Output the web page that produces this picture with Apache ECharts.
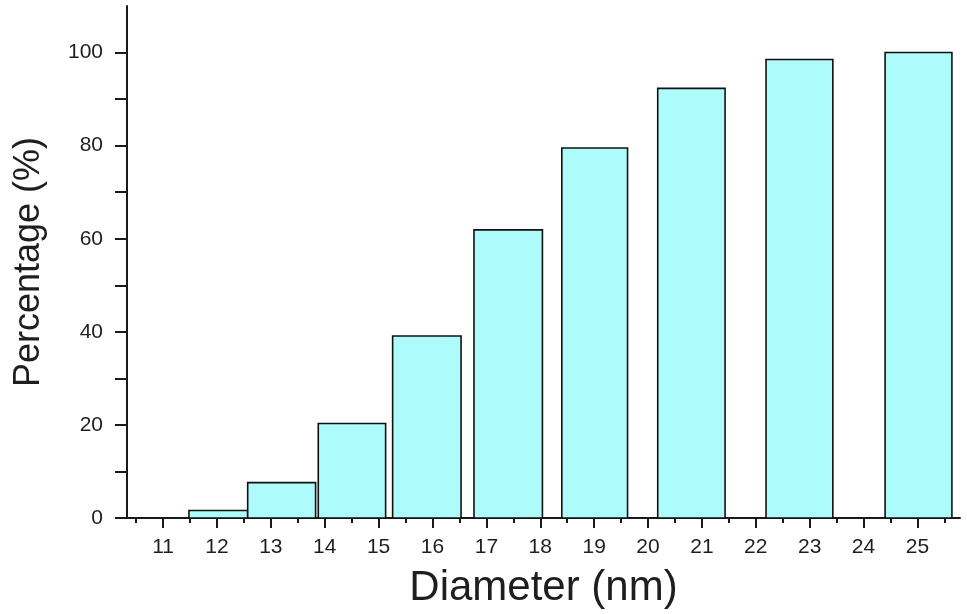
<!DOCTYPE html>
<html>
<head>
<meta charset="utf-8">
<script src="https://cdn.jsdelivr.net/npm/echarts@6/dist/echarts.min.js"></script>
<style>
html,body{margin:0;padding:0;background:#fff;}
#c{width:967px;height:614px;}
</style>
</head>
<body>
<div id="c"></div>
<script>
// Bin edges (nm) and cumulative percentage values
const binStart = [11.48, 12.57, 13.88, 15.26, 16.77, 18.40, 20.18, 22.19, 24.40];
const binEnd   = [12.57, 13.83, 15.13, 16.53, 18.04, 19.62, 21.43, 23.43, 25.64];
const percentValues = [1.6, 7.6, 20.3, 39.1, 61.9, 79.5, 92.3, 98.5, 100];

// Tick values
const xMajorTicks = [11,12,13,14,15,16,17,18,19,20,21,22,23,24,25];
const xMinorTicks = [10.5,11.5,12.5,13.5,14.5,15.5,16.5,17.5,18.5,19.5,20.5,21.5,22.5,23.5,24.5,25.5];
const yLabelTicks = [0,20,40,60,80,100];
const yTicks = [0,10,20,30,40,50,60,70,80,90,100];

const barData = binStart.map((s, i) => [s, binEnd[i], percentValues[i]]);

const chart = echarts.init(document.getElementById('c'), null, {renderer: 'canvas'});
const axisColor = '#1a1a1a';
const textColor = '#1e1e1e';
const fontFamily = '"Liberation Sans", Arial, sans-serif';

chart.setOption({
  animation: false,
  backgroundColor: '#fff',
  grid: {left: 127, right: 7, top: 6, bottom: 93, containLabel: false},
  xAxis: [
    {
      type: 'value', min: 10.33, max: 25.79, position: 'bottom',
      name: 'Diameter (nm)', nameLocation: 'middle', nameGap: 49,
      nameTextStyle: {fontSize: 42, color: textColor, fontFamily: fontFamily},
      axisLine: {show: true, onZero: false, lineStyle: {color: axisColor, width: 2}},
      axisTick: {show: true, customValues: xMajorTicks, length: 10, lineStyle: {color: axisColor, width: 2}},
      axisLabel: {show: true, customValues: xMajorTicks, margin: 19, fontSize: 21, color: textColor, fontFamily: fontFamily},
      splitLine: {show: false}
    },
    {
      type: 'value', min: 10.33, max: 25.79, position: 'bottom',
      axisLine: {show: false},
      axisTick: {show: true, customValues: xMinorTicks, length: 5, lineStyle: {color: axisColor, width: 2}},
      axisLabel: {show: false},
      splitLine: {show: false}
    }
  ],
  yAxis: {
    type: 'value', min: 0, max: 110,
    name: 'Percentage (%)', nameLocation: 'middle', nameGap: 80,
    nameTextStyle: {fontSize: 36, color: textColor, fontFamily: fontFamily},
    axisLine: {show: true, lineStyle: {color: axisColor, width: 2}},
    axisTick: {show: true, customValues: yTicks, length: 12, lineStyle: {color: axisColor, width: 2}},
    axisLabel: {show: true, customValues: yLabelTicks, margin: 24, fontSize: 21, color: textColor, fontFamily: fontFamily},
    splitLine: {show: false}
  },
  series: [{
    type: 'custom',
    xAxisIndex: 0,
    yAxisIndex: 0,
    data: barData,
    encode: {x: [0, 1], y: 2},
    renderItem: function (params, api) {
      const x0 = api.value(0), x1 = api.value(1), v = api.value(2);
      const pTop = api.coord([x0, v]);
      const pBot = api.coord([x1, 0]);
      return {
        type: 'rect',
        shape: {x: pTop[0], y: pTop[1], width: pBot[0] - pTop[0], height: pBot[1] - pTop[1]},
        style: {fill: '#adfbfb', stroke: '#111', lineWidth: 1.6}
      };
    }
  }]
});
</script>
</body>
</html>
